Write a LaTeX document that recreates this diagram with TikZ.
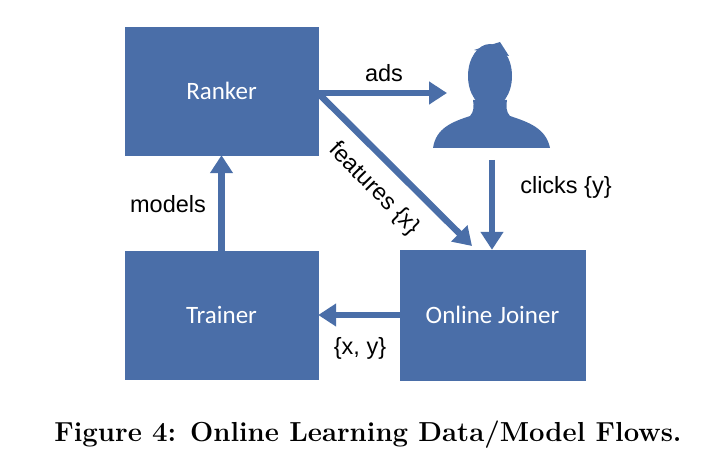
\documentclass[tikz,border=0pt]{standalone}
\usepackage{fontspec}
\setmainfont{Latin Modern Roman}
\newfontfamily\boxfont{Carlito}
\newfontfamily\lblfont{Liberation Sans}
\usetikzlibrary{arrows.meta}
\definecolor{fb}{HTML}{4A6EA8}
\begin{document}
\begin{tikzpicture}[x=1pt,y=-1pt,
  box/.style={draw=fb,fill=fb,minimum width=193pt,minimum height=128pt,inner sep=0,text=white,font=\boxfont\fontsize{25}{30}\selectfont},
  arr/.style={draw=fb,line width=6.5pt,-{Triangle[length=18pt,width=22pt]}},
  lbl/.style={font=\lblfont\fontsize{23.5}{28}\selectfont}]
\useasboundingbox (0,0) rectangle (720,465);
\node[box] (ranker) at (221.5,91) {Ranker};
\node[box] (trainer) at (221.5,315) {Trainer};
\node[box,minimum width=185pt,minimum height=130pt] (joiner) at (492.5,315) {Online Joiner};
% user icon
\fill[fb] (433,148) .. controls (436,128) and (452,122) .. (470,116) .. controls (474,112) and (474,106) .. (473,100) -- (507,100) .. controls (506,106) and (506,112) .. (510,116) .. controls (528,122) and (546,128) .. (550,148) -- cycle;
\fill[fb] (490,76) ellipse [x radius=22, y radius=32];
\fill[fb] (474,50) -- (500,42) -- (509,56) -- cycle;
\coordinate (adsE) at (447,93);
\coordinate (clkS) at (492,160);
\coordinate (rkE) at (318,93);
\draw[arr] (rkE) -- (adsE);
\node[lbl] (ads) at (384,73) {ads};
\draw[arr] (rkE) -- (472,246);
\node[lbl,rotate=-45.5] (feat) at (374,189) {features \{x\}};
\draw[arr] (clkS) -- (joiner.north -| clkS);
\node[lbl] (clk) at (566,187) {clicks \{y\}};
\draw[arr] (trainer.north) -- (ranker.south);
\node[lbl] (mod) at (168,204) {models};
\draw[arr] (joiner.west) -- (trainer.east);
\node[lbl] (xy) at (360,348) {\{x, y\}};
\node[font=\bfseries\fontsize{27.5}{32}\selectfont] (cap) at (368,435) {Figure 4: Online Learning Data/Model Flows.};
\end{tikzpicture}
\end{document}
